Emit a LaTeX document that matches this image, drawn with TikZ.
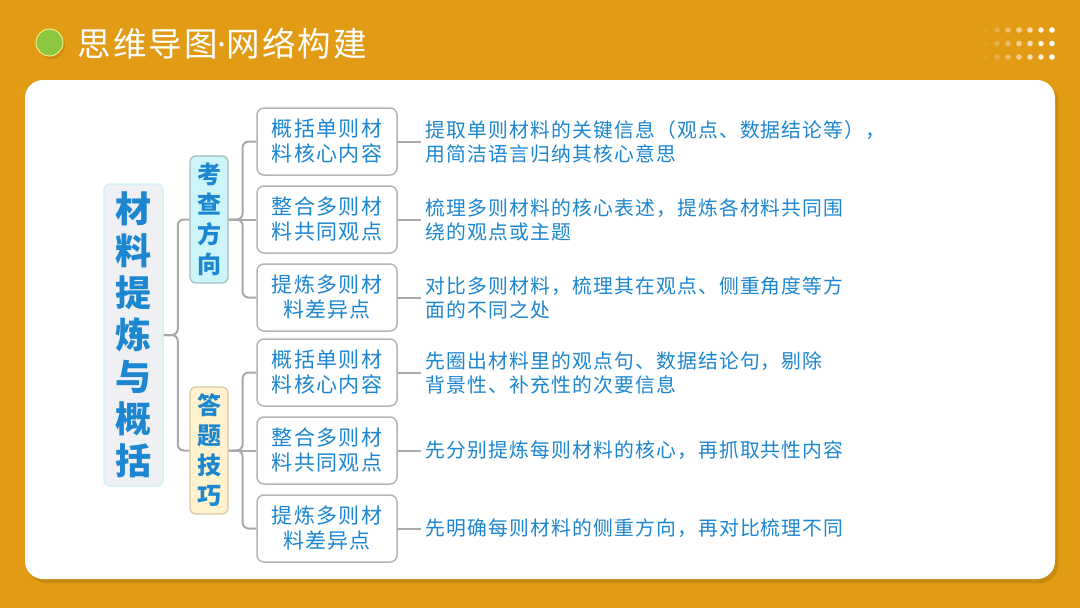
\documentclass[tikz,border=0pt]{standalone}
\usepackage{fontspec}
\setmainfont{Noto Sans CJK SC}[LetterSpace=6]
\newfontfamily\latinfont{Noto Sans}

\definecolor{bgorange}{HTML}{E19B15}
\definecolor{cardshade}{HTML}{B97F10}
\definecolor{dotgreen}{HTML}{8DC63F}
\definecolor{inkblue}{HTML}{1C86D0}
\definecolor{linegray}{HTML}{A9A9A9}
\definecolor{boxgray}{HTML}{B4B4B4}
\definecolor{rootfill}{HTML}{EEF0F3}
\definecolor{rootline}{HTML}{D4F2F7}
\definecolor{cyanfill}{HTML}{CBF5F9}
\definecolor{cyanline}{HTML}{9FBDC1}
\definecolor{yellowfill}{HTML}{FFF2CC}
\definecolor{yellowline}{HTML}{D6C9A6}

\tikzset{
		boxnode/.style = {shape=rectangle, rounded corners=6pt, draw,
				align=center, inner sep=0pt, text=inkblue},
		root/.style    = {boxnode, fill=rootfill, draw=rootline, line width=1.5pt,
				minimum width=59pt, minimum height=302pt,
				font=\fontsize{36}{42}\selectfont\bfseries},
		topic/.style   = {boxnode, line width=1.2pt, minimum width=38pt, minimum height=127pt,
				font=\fontsize{24}{30}\selectfont\bfseries},
		point/.style   = {boxnode, fill=white, draw=boxgray, line width=1.5pt, rounded corners=7pt,
				minimum width=140pt, minimum height=67pt,
				font=\fontsize{21}{25}\selectfont},
		desc/.style    = {anchor=west, align=left, inner sep=4pt, text=inkblue,
				font=\fontsize{19.8}{24}\selectfont},
		straight/.style = {edge from parent path = {(\tikzparentnode.east) -- (\tikzchildnode.west)}}
	}

\begin{document}
\begin{tikzpicture}
		[x=1pt, y=1pt,
			grow   = right,
			edge from parent/.style = {draw=linegray, line width=2pt, rounded corners=6pt},
			edge from parent path   = {(\tikzparentnode.east) -- ++(14pt,0) |- (\tikzchildnode.west)},
			level 1/.style = {level distance = 75.5pt, sibling distance = -231pt},
			level 2/.style = {level distance = 118pt, sibling distance = -78pt},
			level 3/.style = {level distance = 94pt, straight},
		]
		% background and card
		\useasboundingbox (0,0) rectangle (1080,-608);
		\fill[bgorange] (0,0) rectangle (1080,-608);
		\fill[cardshade, opacity=0.6, rounded corners=18pt] (28,-83) rectangle (1058,-583);
		\fill[white, rounded corners=18pt] (25,-80) rectangle (1055,-579);

		% title bar
		\fill[cardshade, opacity=0.5] (51.5,-45.5) circle (13.5);
		\draw[fill=dotgreen, draw=yellow!40, line width=0.8pt] (49.5,-42.5) circle (13.5);
		\node[anchor=west, text=white, font=\fontsize{33.5}{36}\selectfont] (title) at (74,-44)
			{思维导图{\latinfont\fontsize{33.5}{36}\selectfont ·}网络构建};
		\foreach \i in {0,...,6}
			\foreach \j in {0,1,2}
				\fill[white, opacity=0.05+0.158*\i] (986+11*\i,-30-13.5*\j) circle (2.8);

		% mind map
		\node [root] (theme) at (133.5,-335) {材\\料\\提\\炼\\与\\概\\括}
		child { node [topic, fill=cyanfill, draw=cyanline] (aim) {考\\查\\方\\向}
				child { node [point] (aimA) {概括单则材\\料核心内容}
						child { node [desc] (aimAd) {提取单则材料的关键信息（观点、数据结论等），\\用简洁语言归纳其核心意思} } }
				child [straight] { node [point] (aimB) {整合多则材\\料共同观点}
						child { node [desc] (aimBd) {梳理多则材料的核心表述，提炼各材料共同围\\绕的观点或主题} } }
				child { node [point] (aimC) {提炼多则材\\料差异点}
						child { node [desc] (aimCd) {对比多则材料，梳理其在观点、侧重角度等方\\面的不同之处} } }
			}
		child { node [topic, fill=yellowfill, draw=yellowline] (skill) {答\\题\\技\\巧}
				child { node [point] (skillA) {概括单则材\\料核心内容}
						child { node [desc] (skillAd) {先圈出材料里的观点句、数据结论句，剔除\\背景性、补充性的次要信息} } }
				child [straight] { node [point] (skillB) {整合多则材\\料共同观点}
						child { node [desc] (skillBd) {先分别提炼每则材料的核心，再抓取共性内容} } }
				child { node [point] (skillC) {提炼多则材\\料差异点}
						child { node [desc] (skillCd) {先明确每则材料的侧重方向，再对比梳理不同} } }
			}
		;
	\end{tikzpicture}
\end{document}
